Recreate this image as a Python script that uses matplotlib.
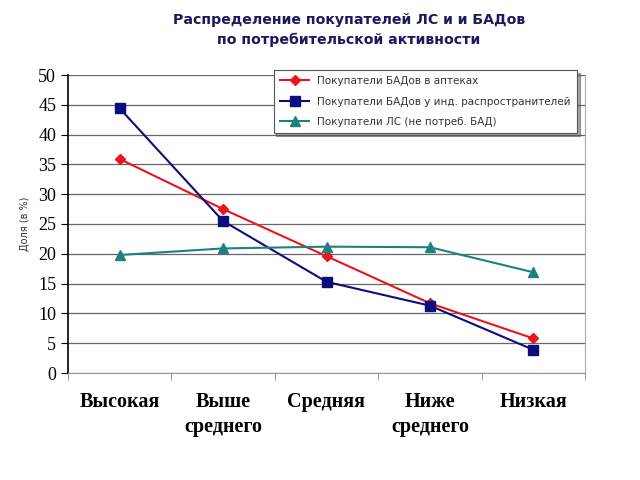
import matplotlib.pyplot as plt

# ___data___
categories = ['Высокая', 'Выше\nсреднего', 'Средняя', 'Ниже\nсреднего', 'Низкая']
apteki = [35.9, 27.5, 19.6, 11.7, 5.8]
individ = [44.4, 25.5, 15.3, 11.3, 3.9]
ls_only = [19.8, 20.9, 21.2, 21.1, 16.9]
series_names = ['Покупатели БАДов в аптеках',
                'Покупатели БАДов у инд. распространителей',
                'Покупатели ЛС (не потреб. БАД)']

fig = plt.figure(figsize=(6.4, 4.8), dpi=100)
ax = fig.add_axes([68 / 640, 1 - 373 / 480, (585 - 68) / 640, (373 - 75) / 480])

x = range(len(categories))
ax.plot(x, apteki, color='#e8161a', marker='D', markersize=5, lw=1.5, label=series_names[0])
ax.plot(x, individ, color='#0d0d80', marker='s', markersize=7, lw=1.5, label=series_names[1])
ax.plot(x, ls_only, color='#1f8080', marker='^', markersize=7, lw=1.5, label=series_names[2])

ax.set_xlim(-0.5, 4.5)
ax.set_ylim(0, 50)
ax.set_yticks(range(0, 51, 5))
ax.set_yticklabels([str(v) for v in range(0, 51, 5)], family='Liberation Serif', fontsize=13)
ax.set_xticks(list(x))
ax.set_xticklabels(categories, family='Liberation Serif', fontsize=14.5, fontweight='bold',
                   linespacing=1.3)
ax.set_xticks([i + 0.5 for i in range(-1, 5)], minor=True)
ax.tick_params(axis='x', which='major', length=0, pad=14)
ax.tick_params(axis='x', which='minor', length=5, color='#888888')
ax.tick_params(axis='y', length=5, direction='out')
ax.grid(axis='y', color='#666666', lw=0.9)
ax.set_axisbelow(True)

ax.spines['top'].set_visible(False)
ax.spines['right'].set_color('#aaaaaa')
ax.spines['bottom'].set_color('#999999')
ax.spines['left'].set_color('black')
ax.spines['left'].set_linewidth(1.2)

ax.set_ylabel('Доля (в %)', family='DejaVu Sans', fontsize=7, labelpad=6, color='#333333')

leg = ax.legend(loc='upper right', bbox_to_anchor=(0.995, 1.035), frameon=True, fancybox=False,
                shadow=True, fontsize=7.5, handlelength=2.8, borderpad=0.6,
                labelspacing=1.0, edgecolor='#555555')
leg.get_frame().set_linewidth(0.8)
for t in leg.get_texts():
    t.set_color('#333333')

fig.text(0.545, 0.972, 'Распределение покупателей ЛС и и БАДов\nпо потребительской активности',
         ha='center', va='top', fontsize=10.2, fontweight='bold', color='#1a1a5e',
         family='DejaVu Sans', linespacing=1.5)

fig.savefig('out.png', dpi=100)
